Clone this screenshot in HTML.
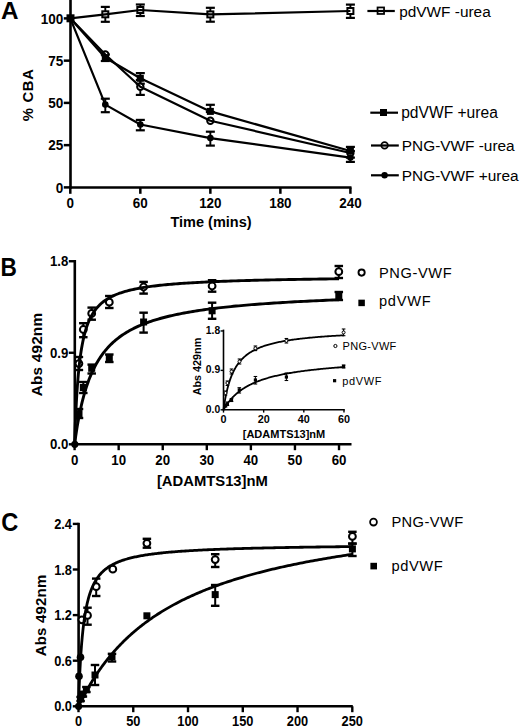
<!DOCTYPE html>
<html><head><meta charset="utf-8"><title>Figure</title>
<style>
html,body{margin:0;padding:0;background:#fff;}
body{width:520px;height:727px;overflow:hidden;}
svg{display:block;}
svg text{font-family:"Liberation Sans", sans-serif;fill:#000;}
</style></head>
<body>
<svg width="520" height="727" viewBox="0 0 520 727" stroke="#000" stroke-linecap="butt">
<g stroke="none"><rect x="0" y="0" width="520" height="727" fill="#fff"/></g>
<line x1="70.5" y1="0" x2="70.5" y2="188.8" stroke-width="2.6"/>
<line x1="69.2" y1="187.5" x2="351.5" y2="187.5" stroke-width="2.6"/>
<line x1="63.8" y1="187.4" x2="70.5" y2="187.4" stroke-width="2.5"/>
<line x1="63.8" y1="145.15" x2="70.5" y2="145.15" stroke-width="2.5"/>
<line x1="63.8" y1="102.9" x2="70.5" y2="102.9" stroke-width="2.5"/>
<line x1="63.8" y1="60.65" x2="70.5" y2="60.65" stroke-width="2.5"/>
<line x1="63.8" y1="18.4" x2="70.5" y2="18.4" stroke-width="2.5"/>
<line x1="70.3" y1="187.5" x2="70.3" y2="193.8" stroke-width="2.5"/>
<line x1="140.32" y1="187.5" x2="140.32" y2="193.8" stroke-width="2.5"/>
<line x1="210.35" y1="187.5" x2="210.35" y2="193.8" stroke-width="2.5"/>
<line x1="280.37" y1="187.5" x2="280.37" y2="193.8" stroke-width="2.5"/>
<line x1="350.4" y1="187.5" x2="350.4" y2="193.8" stroke-width="2.5"/>
<text stroke="none" transform="translate(63.3 192.7) scale(0.94 1)" font-size="14.4" font-weight="bold" text-anchor="end">0</text>
<text stroke="none" transform="translate(63.3 150.45) scale(0.94 1)" font-size="14.4" font-weight="bold" text-anchor="end">25</text>
<text stroke="none" transform="translate(63.3 108.2) scale(0.94 1)" font-size="14.4" font-weight="bold" text-anchor="end">50</text>
<text stroke="none" transform="translate(63.3 65.95) scale(0.94 1)" font-size="14.4" font-weight="bold" text-anchor="end">75</text>
<text stroke="none" transform="translate(63.3 23.7) scale(0.94 1)" font-size="14.4" font-weight="bold" text-anchor="end">100</text>
<text stroke="none" transform="translate(70.3 208.1) scale(0.94 1)" font-size="14.3" font-weight="bold" text-anchor="middle">0</text>
<text stroke="none" transform="translate(140.32 208.1) scale(0.94 1)" font-size="14.3" font-weight="bold" text-anchor="middle">60</text>
<text stroke="none" transform="translate(210.35 208.1) scale(0.94 1)" font-size="14.3" font-weight="bold" text-anchor="middle">120</text>
<text stroke="none" transform="translate(280.37 208.1) scale(0.94 1)" font-size="14.3" font-weight="bold" text-anchor="middle">180</text>
<text stroke="none" transform="translate(350.4 208.1) scale(0.94 1)" font-size="14.3" font-weight="bold" text-anchor="middle">240</text>
<text stroke="none" x="211" y="227.2" font-size="14.5" font-weight="bold" text-anchor="middle">Time (mins)</text>
<text stroke="none" x="32.9" y="94.8" font-size="14.8" font-weight="bold" text-anchor="middle" transform="rotate(-90 32.9 94.8)" letter-spacing="0.7">% CBA</text>
<text stroke="none" x="0.9" y="19.3" font-size="24.3" font-weight="bold" text-anchor="start">A</text>
<line x1="105.31" y1="6.9" x2="105.31" y2="21.8" stroke-width="1.9"/>
<line x1="100.81" y1="6.9" x2="109.81" y2="6.9" stroke-width="2.2"/>
<line x1="100.81" y1="21.8" x2="109.81" y2="21.8" stroke-width="2.2"/>
<line x1="140.32" y1="4.5" x2="140.32" y2="16" stroke-width="1.9"/>
<line x1="135.82" y1="4.5" x2="144.82" y2="4.5" stroke-width="2.2"/>
<line x1="135.82" y1="16" x2="144.82" y2="16" stroke-width="2.2"/>
<line x1="210.35" y1="7.8" x2="210.35" y2="21.7" stroke-width="1.9"/>
<line x1="205.85" y1="7.8" x2="214.85" y2="7.8" stroke-width="2.2"/>
<line x1="205.85" y1="21.7" x2="214.85" y2="21.7" stroke-width="2.2"/>
<line x1="350.4" y1="4.6" x2="350.4" y2="17.9" stroke-width="1.9"/>
<line x1="345.9" y1="4.6" x2="354.9" y2="4.6" stroke-width="2.2"/>
<line x1="345.9" y1="17.9" x2="354.9" y2="17.9" stroke-width="2.2"/>
<line x1="105.31" y1="54.5" x2="105.31" y2="61" stroke-width="1.9"/>
<line x1="100.81" y1="54.5" x2="109.81" y2="54.5" stroke-width="2.2"/>
<line x1="100.81" y1="61" x2="109.81" y2="61" stroke-width="2.2"/>
<line x1="140.32" y1="73.1" x2="140.32" y2="83.7" stroke-width="1.9"/>
<line x1="135.82" y1="73.1" x2="144.82" y2="73.1" stroke-width="2.2"/>
<line x1="135.82" y1="83.7" x2="144.82" y2="83.7" stroke-width="2.2"/>
<line x1="210.35" y1="104.8" x2="210.35" y2="112" stroke-width="1.9"/>
<line x1="205.85" y1="104.8" x2="214.85" y2="104.8" stroke-width="2.2"/>
<line x1="205.85" y1="112" x2="214.85" y2="112" stroke-width="2.2"/>
<line x1="350.4" y1="146.9" x2="350.4" y2="151" stroke-width="1.9"/>
<line x1="345.9" y1="146.9" x2="354.9" y2="146.9" stroke-width="2.2"/>
<line x1="345.9" y1="151" x2="354.9" y2="151" stroke-width="2.2"/>
<line x1="140.32" y1="80" x2="140.32" y2="94.9" stroke-width="1.9"/>
<line x1="135.82" y1="80" x2="144.82" y2="80" stroke-width="2.2"/>
<line x1="135.82" y1="94.9" x2="144.82" y2="94.9" stroke-width="2.2"/>
<line x1="105.31" y1="98.7" x2="105.31" y2="112.2" stroke-width="1.9"/>
<line x1="100.81" y1="98.7" x2="109.81" y2="98.7" stroke-width="2.2"/>
<line x1="100.81" y1="112.2" x2="109.81" y2="112.2" stroke-width="2.2"/>
<line x1="140.32" y1="119.9" x2="140.32" y2="130.3" stroke-width="1.9"/>
<line x1="135.82" y1="119.9" x2="144.82" y2="119.9" stroke-width="2.2"/>
<line x1="135.82" y1="130.3" x2="144.82" y2="130.3" stroke-width="2.2"/>
<line x1="210.35" y1="131.7" x2="210.35" y2="145.6" stroke-width="1.9"/>
<line x1="205.85" y1="131.7" x2="214.85" y2="131.7" stroke-width="2.2"/>
<line x1="205.85" y1="145.6" x2="214.85" y2="145.6" stroke-width="2.2"/>
<line x1="350.4" y1="157.6" x2="350.4" y2="161.9" stroke-width="1.9"/>
<line x1="345.9" y1="157.6" x2="354.9" y2="157.6" stroke-width="2.2"/>
<line x1="345.9" y1="161.9" x2="354.9" y2="161.9" stroke-width="2.2"/>
<rect x="102.31" y="11.3" width="6" height="6" fill="#fff" stroke-width="2"/>
<rect x="137.32" y="7" width="6" height="6" fill="#fff" stroke-width="2"/>
<rect x="207.35" y="11.4" width="6" height="6" fill="#fff" stroke-width="2"/>
<rect x="347.4" y="8" width="6" height="6" fill="#fff" stroke-width="2"/>
<circle cx="105.31" cy="54.5" r="3.2" fill="#fff" stroke-width="2"/>
<circle cx="140.32" cy="86.7" r="3.2" fill="#fff" stroke-width="2"/>
<circle cx="210.35" cy="120.7" r="3.2" fill="#fff" stroke-width="2"/>
<circle cx="350.4" cy="153" r="3.2" fill="#fff" stroke-width="2"/>
<polyline points="70.3,18.3 105.31,14.3 140.32,10 210.35,14.4 350.4,11" fill="none" stroke-width="2.2" stroke-linejoin="round"/>
<polyline points="70.3,18.3 105.31,57.7 140.32,78.3 210.35,111.4 350.4,151" fill="none" stroke-width="2.2" stroke-linejoin="round"/>
<polyline points="70.3,18.3 105.31,54.5 140.32,86.7 210.35,120.7 350.4,153" fill="none" stroke-width="2.2" stroke-linejoin="round"/>
<polyline points="70.3,18.3 105.31,104.6 140.32,124.5 210.35,138.1 350.4,157.6" fill="none" stroke-width="2.2" stroke-linejoin="round"/>
<rect x="101.81" y="54.2" width="7" height="7" fill="#000" stroke="none"/>
<rect x="136.82" y="74.8" width="7" height="7" fill="#000" stroke="none"/>
<rect x="206.85" y="107.9" width="7" height="7" fill="#000" stroke="none"/>
<rect x="346.9" y="147.5" width="7" height="7" fill="#000" stroke="none"/>
<circle cx="105.31" cy="104.6" r="3.3" fill="#000" stroke="none"/>
<circle cx="140.32" cy="124.5" r="3.3" fill="#000" stroke="none"/>
<circle cx="210.35" cy="138.1" r="3.3" fill="#000" stroke="none"/>
<circle cx="350.4" cy="157.6" r="3.3" fill="#000" stroke="none"/>
<rect x="66.5" y="14.3" width="8" height="8" fill="#000" stroke="none"/>
<rect x="377.55" y="7.45" width="6.5" height="6.5" fill="#fff" stroke-width="1.75"/>
<line x1="367.4" y1="11" x2="394.8" y2="11" stroke-width="2.2"/>
<text stroke="none" x="399.2" y="16.6" font-size="15.4" font-weight="normal" text-anchor="start">pdVWF -urea</text>
<line x1="370.3" y1="112.7" x2="398" y2="112.7" stroke-width="2.2"/>
<rect x="380" y="109" width="7" height="7" fill="#000" stroke="none"/>
<text stroke="none" x="401.2" y="117.8" font-size="15.6" font-weight="normal" text-anchor="start">pdVWF +urea</text>
<circle cx="384.6" cy="145.4" r="3.3" fill="#fff" stroke-width="1.7"/>
<line x1="371" y1="145.5" x2="398.8" y2="145.5" stroke-width="2.2"/>
<text stroke="none" x="401.8" y="150.5" font-size="15.4" font-weight="normal" text-anchor="start">PNG-VWF -urea</text>
<line x1="371" y1="175.3" x2="398.8" y2="175.3" stroke-width="2.2"/>
<circle cx="384.6" cy="175.3" r="3.2" fill="#000" stroke="none"/>
<text stroke="none" x="401.8" y="180.7" font-size="15.4" font-weight="normal" text-anchor="start">PNG-VWF +urea</text>
<line x1="74.8" y1="260" x2="74.8" y2="445.6" stroke-width="2.6"/>
<line x1="73.5" y1="444.3" x2="351.5" y2="444.3" stroke-width="2.6"/>
<line x1="68.8" y1="444.3" x2="74.8" y2="444.3" stroke-width="2.4"/>
<line x1="68.8" y1="352.77" x2="74.8" y2="352.77" stroke-width="2.4"/>
<line x1="68.8" y1="261.24" x2="74.8" y2="261.24" stroke-width="2.4"/>
<line x1="74.6" y1="444.3" x2="74.6" y2="450.2" stroke-width="2.4"/>
<line x1="118.67" y1="444.3" x2="118.67" y2="450.2" stroke-width="2.4"/>
<line x1="162.74" y1="444.3" x2="162.74" y2="450.2" stroke-width="2.4"/>
<line x1="206.81" y1="444.3" x2="206.81" y2="450.2" stroke-width="2.4"/>
<line x1="250.88" y1="444.3" x2="250.88" y2="450.2" stroke-width="2.4"/>
<line x1="294.95" y1="444.3" x2="294.95" y2="450.2" stroke-width="2.4"/>
<line x1="339.02" y1="444.3" x2="339.02" y2="450.2" stroke-width="2.4"/>
<text stroke="none" transform="translate(68.3 449.4) scale(0.93 1)" font-size="14.2" font-weight="bold" text-anchor="end">0.0</text>
<text stroke="none" transform="translate(68.3 357.87) scale(0.93 1)" font-size="14.2" font-weight="bold" text-anchor="end">0.9</text>
<text stroke="none" transform="translate(68.3 266.34) scale(0.93 1)" font-size="14.2" font-weight="bold" text-anchor="end">1.8</text>
<text stroke="none" transform="translate(74.6 465.2) scale(0.94 1)" font-size="14.1" font-weight="bold" text-anchor="middle">0</text>
<text stroke="none" transform="translate(118.67 465.2) scale(0.94 1)" font-size="14.1" font-weight="bold" text-anchor="middle">10</text>
<text stroke="none" transform="translate(162.74 465.2) scale(0.94 1)" font-size="14.1" font-weight="bold" text-anchor="middle">20</text>
<text stroke="none" transform="translate(206.81 465.2) scale(0.94 1)" font-size="14.1" font-weight="bold" text-anchor="middle">30</text>
<text stroke="none" transform="translate(250.88 465.2) scale(0.94 1)" font-size="14.1" font-weight="bold" text-anchor="middle">40</text>
<text stroke="none" transform="translate(294.95 465.2) scale(0.94 1)" font-size="14.1" font-weight="bold" text-anchor="middle">50</text>
<text stroke="none" transform="translate(339.02 465.2) scale(0.94 1)" font-size="14.1" font-weight="bold" text-anchor="middle">60</text>
<text stroke="none" x="212.4" y="485.8" font-size="14.8" font-weight="bold" text-anchor="middle">[ADAMTS13]nM</text>
<text stroke="none" x="42.2" y="354.5" font-size="15.3" font-weight="bold" text-anchor="middle" transform="rotate(-90 42.2 354.5)" letter-spacing="0.2">Abs 492nm</text>
<text stroke="none" transform="translate(0.6 276.2) scale(0.9 1)" font-size="25.2" font-weight="bold">B</text>
<line x1="78.9" y1="357" x2="78.9" y2="370" stroke-width="2"/>
<line x1="74.65" y1="357" x2="83.15" y2="357" stroke-width="2.4"/>
<line x1="74.65" y1="370" x2="83.15" y2="370" stroke-width="2.4"/>
<line x1="83.3" y1="323.2" x2="83.3" y2="337.2" stroke-width="2"/>
<line x1="79.05" y1="323.2" x2="87.55" y2="323.2" stroke-width="2.4"/>
<line x1="79.05" y1="337.2" x2="87.55" y2="337.2" stroke-width="2.4"/>
<line x1="91.7" y1="307.6" x2="91.7" y2="319.7" stroke-width="2"/>
<line x1="87.45" y1="307.6" x2="95.95" y2="307.6" stroke-width="2.4"/>
<line x1="87.45" y1="319.7" x2="95.95" y2="319.7" stroke-width="2.4"/>
<line x1="109.3" y1="296" x2="109.3" y2="308" stroke-width="2"/>
<line x1="105.05" y1="296" x2="113.55" y2="296" stroke-width="2.4"/>
<line x1="105.05" y1="308" x2="113.55" y2="308" stroke-width="2.4"/>
<line x1="143.6" y1="281.9" x2="143.6" y2="293.6" stroke-width="2"/>
<line x1="139.35" y1="281.9" x2="147.85" y2="281.9" stroke-width="2.4"/>
<line x1="139.35" y1="293.6" x2="147.85" y2="293.6" stroke-width="2.4"/>
<line x1="212.1" y1="280.2" x2="212.1" y2="291.7" stroke-width="2"/>
<line x1="207.85" y1="280.2" x2="216.35" y2="280.2" stroke-width="2.4"/>
<line x1="207.85" y1="291.7" x2="216.35" y2="291.7" stroke-width="2.4"/>
<line x1="338.8" y1="266" x2="338.8" y2="278" stroke-width="2"/>
<line x1="334.55" y1="266" x2="343.05" y2="266" stroke-width="2.4"/>
<line x1="334.55" y1="278" x2="343.05" y2="278" stroke-width="2.4"/>
<line x1="79" y1="409" x2="79" y2="418" stroke-width="2"/>
<line x1="74.75" y1="409" x2="83.25" y2="409" stroke-width="2.4"/>
<line x1="74.75" y1="418" x2="83.25" y2="418" stroke-width="2.4"/>
<line x1="83.3" y1="382" x2="83.3" y2="393" stroke-width="2"/>
<line x1="79.05" y1="382" x2="87.55" y2="382" stroke-width="2.4"/>
<line x1="79.05" y1="393" x2="87.55" y2="393" stroke-width="2.4"/>
<line x1="91.7" y1="364.6" x2="91.7" y2="373.5" stroke-width="2"/>
<line x1="87.45" y1="364.6" x2="95.95" y2="364.6" stroke-width="2.4"/>
<line x1="87.45" y1="373.5" x2="95.95" y2="373.5" stroke-width="2.4"/>
<line x1="109.3" y1="354.5" x2="109.3" y2="362" stroke-width="2"/>
<line x1="105.05" y1="354.5" x2="113.55" y2="354.5" stroke-width="2.4"/>
<line x1="105.05" y1="362" x2="113.55" y2="362" stroke-width="2.4"/>
<line x1="143.6" y1="312.7" x2="143.6" y2="332.6" stroke-width="2"/>
<line x1="139.35" y1="312.7" x2="147.85" y2="312.7" stroke-width="2.4"/>
<line x1="139.35" y1="332.6" x2="147.85" y2="332.6" stroke-width="2.4"/>
<line x1="212.1" y1="302.7" x2="212.1" y2="318.8" stroke-width="2"/>
<line x1="207.85" y1="302.7" x2="216.35" y2="302.7" stroke-width="2.4"/>
<line x1="207.85" y1="318.8" x2="216.35" y2="318.8" stroke-width="2.4"/>
<line x1="338.8" y1="292" x2="338.8" y2="300" stroke-width="2"/>
<line x1="334.55" y1="292" x2="343.05" y2="292" stroke-width="2.4"/>
<line x1="334.55" y1="300" x2="343.05" y2="300" stroke-width="2.4"/>
<circle cx="78.9" cy="363.6" r="3.4" fill="#fff" stroke-width="2"/>
<circle cx="83.3" cy="329.5" r="3.4" fill="#fff" stroke-width="2"/>
<circle cx="91.7" cy="313.4" r="3.4" fill="#fff" stroke-width="2"/>
<circle cx="109.3" cy="302.2" r="3.4" fill="#fff" stroke-width="2"/>
<circle cx="143.6" cy="287" r="3.4" fill="#fff" stroke-width="2"/>
<circle cx="212.1" cy="286" r="3.4" fill="#fff" stroke-width="2"/>
<circle cx="338.8" cy="271.7" r="3.4" fill="#fff" stroke-width="2"/>
<rect x="75.5" y="410.1" width="7" height="7" fill="#000" stroke="none"/>
<rect x="79.8" y="384" width="7" height="7" fill="#000" stroke="none"/>
<rect x="88.2" y="364.8" width="7" height="7" fill="#000" stroke="none"/>
<rect x="105.8" y="354.8" width="7" height="7" fill="#000" stroke="none"/>
<rect x="140.1" y="318.5" width="7" height="7" fill="#000" stroke="none"/>
<rect x="208.6" y="307.3" width="7" height="7" fill="#000" stroke="none"/>
<rect x="335.3" y="292.5" width="7" height="7" fill="#000" stroke="none"/>
<polyline points="74.6,444.3 74.61,443.97 74.64,442.99 74.69,441.38 74.77,439.18 74.86,436.44 74.97,433.21 75.11,429.55 75.26,425.54 75.44,421.24 75.63,416.71 75.85,412.03 76.09,407.24 76.35,402.4 76.62,397.56 76.92,392.76 77.24,388.03 77.59,383.39 77.95,378.87 78.33,374.49 78.73,370.26 79.16,366.18 79.6,362.26 80.06,358.51 80.55,354.92 81.06,351.5 81.58,348.24 82.13,345.13 82.7,342.17 83.29,339.36 83.9,336.69 84.53,334.16 85.18,331.75 85.85,329.47 86.54,327.3 87.25,325.24 87.99,323.29 88.74,321.43 89.51,319.67 90.31,317.99 91.13,316.4 91.96,314.89 92.82,313.46 93.7,312.09 94.6,310.79 95.52,309.55 96.46,308.37 97.42,307.24 98.4,306.17 99.4,305.15 100.42,304.18 101.47,303.24 102.53,302.36 103.61,301.51 104.72,300.69 105.84,299.92 106.99,299.17 108.16,298.46 109.35,297.78 110.55,297.13 111.78,296.5 113.03,295.9 114.3,295.32 115.6,294.77 116.91,294.24 118.24,293.73 119.59,293.23 120.97,292.76 122.36,292.31 123.78,291.87 125.21,291.45 126.67,291.04 128.15,290.65 129.64,290.28 131.16,289.91 132.7,289.56 134.26,289.22 135.84,288.9 137.44,288.58 139.06,288.28 140.7,287.98 142.37,287.7 144.05,287.42 145.76,287.16 147.48,286.9 149.23,286.65 150.99,286.41 152.78,286.17 154.59,285.95 156.42,285.73 158.26,285.51 160.13,285.31 162.02,285.11 163.93,284.91 165.87,284.72 167.82,284.54 169.79,284.36 171.78,284.19 173.8,284.02 175.83,283.86 177.89,283.7 179.97,283.55 182.06,283.4 184.18,283.25 186.32,283.11 188.48,282.97 190.66,282.84 192.86,282.7 195.08,282.58 197.32,282.45 199.58,282.33 201.86,282.21 204.17,282.1 206.49,281.99 208.83,281.88 211.2,281.77 213.59,281.67 215.99,281.56 218.42,281.47 220.87,281.37 223.34,281.27 225.83,281.18 228.34,281.09 230.87,281 233.42,280.92 235.99,280.83 238.58,280.75 241.19,280.67 243.83,280.59 246.48,280.52 249.16,280.44 251.85,280.37 254.57,280.3 257.31,280.23 260.07,280.16 262.84,280.09 265.64,280.03 268.46,279.96 271.3,279.9 274.16,279.84 277.05,279.78 279.95,279.72 282.87,279.66 285.82,279.6 288.78,279.55 291.77,279.49 294.77,279.44 297.8,279.39 300.84,279.33 303.91,279.28 307,279.23 310.11,279.19 313.24,279.14 316.39,279.09 319.56,279.05 322.75,279 325.96,278.96 329.2,278.91 332.45,278.87 335.73,278.83 339.02,278.79" fill="none" stroke-width="2.9" stroke-linejoin="round"/>
<polyline points="74.6,444.3 74.61,444.22 74.64,443.98 74.69,443.59 74.77,443.04 74.86,442.34 74.97,441.5 75.11,440.51 75.26,439.39 75.44,438.13 75.63,436.76 75.85,435.26 76.09,433.66 76.35,431.96 76.62,430.17 76.92,428.3 77.24,426.35 77.59,424.33 77.95,422.25 78.33,420.13 78.73,417.96 79.16,415.75 79.6,413.52 80.06,411.26 80.55,409 81.06,406.72 81.58,404.44 82.13,402.16 82.7,399.89 83.29,397.63 83.9,395.38 84.53,393.15 85.18,390.95 85.85,388.77 86.54,386.62 87.25,384.5 87.99,382.42 88.74,380.36 89.51,378.34 90.31,376.36 91.13,374.42 91.96,372.51 92.82,370.65 93.7,368.82 94.6,367.03 95.52,365.28 96.46,363.57 97.42,361.91 98.4,360.28 99.4,358.68 100.42,357.13 101.47,355.62 102.53,354.14 103.61,352.7 104.72,351.3 105.84,349.93 106.99,348.6 108.16,347.3 109.35,346.03 110.55,344.8 111.78,343.6 113.03,342.43 114.3,341.29 115.6,340.18 116.91,339.1 118.24,338.05 119.59,337.03 120.97,336.03 122.36,335.06 123.78,334.12 125.21,333.2 126.67,332.3 128.15,331.43 129.64,330.58 131.16,329.75 132.7,328.95 134.26,328.16 135.84,327.4 137.44,326.65 139.06,325.93 140.7,325.22 142.37,324.53 144.05,323.86 145.76,323.2 147.48,322.56 149.23,321.94 150.99,321.33 152.78,320.74 154.59,320.16 156.42,319.6 158.26,319.05 160.13,318.51 162.02,317.99 163.93,317.48 165.87,316.98 167.82,316.49 169.79,316.02 171.78,315.55 173.8,315.1 175.83,314.66 177.89,314.23 179.97,313.81 182.06,313.39 184.18,312.99 186.32,312.6 188.48,312.21 190.66,311.84 192.86,311.47 195.08,311.11 197.32,310.76 199.58,310.42 201.86,310.08 204.17,309.75 206.49,309.43 208.83,309.11 211.2,308.81 213.59,308.51 215.99,308.21 218.42,307.92 220.87,307.64 223.34,307.36 225.83,307.09 228.34,306.83 230.87,306.57 233.42,306.31 235.99,306.06 238.58,305.82 241.19,305.58 243.83,305.34 246.48,305.11 249.16,304.89 251.85,304.67 254.57,304.45 257.31,304.24 260.07,304.03 262.84,303.83 265.64,303.63 268.46,303.43 271.3,303.24 274.16,303.05 277.05,302.86 279.95,302.68 282.87,302.5 285.82,302.33 288.78,302.15 291.77,301.98 294.77,301.82 297.8,301.65 300.84,301.49 303.91,301.34 307,301.18 310.11,301.03 313.24,300.88 316.39,300.74 319.56,300.59 322.75,300.45 325.96,300.31 329.2,300.17 332.45,300.04 335.73,299.91 339.02,299.78" fill="none" stroke-width="2.9" stroke-linejoin="round"/>
<circle cx="74.8" cy="444.3" r="3.6" fill="#000" stroke="none"/>
<circle cx="361.6" cy="272.6" r="3.1" fill="#fff" stroke-width="1.9"/>
<text stroke="none" x="379" y="277.6" font-size="14.6" font-weight="normal" text-anchor="start" letter-spacing="0.62">PNG-VWF</text>
<rect x="358.35" y="299.65" width="6.5" height="6.5" fill="#000" stroke="none"/>
<text stroke="none" x="379" y="306.2" font-size="14.6" font-weight="normal" text-anchor="start" letter-spacing="0.75">pdVWF</text>
<line x1="223.5" y1="329.6" x2="223.5" y2="410.5" stroke-width="1.6"/>
<line x1="222.8" y1="409.8" x2="344.8" y2="409.8" stroke-width="1.6"/>
<line x1="220.6" y1="409.8" x2="223.5" y2="409.8" stroke-width="1.4"/>
<line x1="220.6" y1="370.38" x2="223.5" y2="370.38" stroke-width="1.4"/>
<line x1="220.6" y1="330.96" x2="223.5" y2="330.96" stroke-width="1.4"/>
<line x1="223.5" y1="409.8" x2="223.5" y2="412.6" stroke-width="1.4"/>
<line x1="263.66" y1="409.8" x2="263.66" y2="412.6" stroke-width="1.4"/>
<line x1="303.82" y1="409.8" x2="303.82" y2="412.6" stroke-width="1.4"/>
<line x1="343.98" y1="409.8" x2="343.98" y2="412.6" stroke-width="1.4"/>
<text stroke="none" transform="translate(220.2 412.9) scale(0.95 1)" font-size="10.9" font-weight="bold" text-anchor="end">0.0</text>
<text stroke="none" transform="translate(220.2 373.48) scale(0.95 1)" font-size="10.9" font-weight="bold" text-anchor="end">0.9</text>
<text stroke="none" transform="translate(220.2 334.06) scale(0.95 1)" font-size="10.9" font-weight="bold" text-anchor="end">1.8</text>
<text stroke="none" x="223.5" y="423.2" font-size="10.8" font-weight="bold" text-anchor="middle">0</text>
<text stroke="none" x="263.66" y="423.2" font-size="10.8" font-weight="bold" text-anchor="middle">20</text>
<text stroke="none" x="303.82" y="423.2" font-size="10.8" font-weight="bold" text-anchor="middle">40</text>
<text stroke="none" x="343.98" y="423.2" font-size="10.8" font-weight="bold" text-anchor="middle">60</text>
<text stroke="none" x="284" y="438" font-size="11" font-weight="bold" text-anchor="middle">[ADAMTS13]nM</text>
<text stroke="none" x="201.3" y="366.5" font-size="10.8" font-weight="bold" text-anchor="middle" transform="rotate(-90 201.3 366.5)">Abs 429nm</text>
<polyline points="223.5,409.8 223.5,409.77 223.52,409.66 223.54,409.49 223.58,409.26 223.62,408.96 223.67,408.59 223.73,408.16 223.8,407.67 223.88,407.13 223.97,406.53 224.07,405.87 224.18,405.17 224.3,404.42 224.42,403.62 224.56,402.79 224.7,401.92 224.86,401.01 225.02,400.07 225.2,399.11 225.38,398.12 225.58,397.11 225.78,396.08 225.99,395.03 226.21,393.98 226.44,392.91 226.68,391.83 226.93,390.75 227.19,389.67 227.46,388.59 227.74,387.51 228.02,386.43 228.32,385.36 228.63,384.29 228.94,383.24 229.27,382.19 229.6,381.15 229.94,380.12 230.3,379.11 230.66,378.11 231.03,377.13 231.41,376.15 231.8,375.2 232.2,374.26 232.61,373.34 233.03,372.43 233.46,371.54 233.9,370.66 234.34,369.81 234.8,368.97 235.27,368.14 235.74,367.34 236.23,366.55 236.72,365.78 237.22,365.02 237.74,364.28 238.26,363.56 238.79,362.86 239.33,362.17 239.88,361.49 240.44,360.83 241.01,360.19 241.59,359.56 242.18,358.95 242.78,358.35 243.38,357.76 244,357.19 244.63,356.63 245.26,356.09 245.91,355.56 246.56,355.04 247.22,354.53 247.9,354.03 248.58,353.55 249.27,353.08 249.97,352.62 250.68,352.17 251.4,351.73 252.13,351.3 252.87,350.89 253.62,350.48 254.38,350.08 255.14,349.69 255.92,349.31 256.71,348.94 257.5,348.58 258.31,348.22 259.12,347.88 259.95,347.54 260.78,347.21 261.62,346.89 262.47,346.57 263.33,346.27 264.2,345.97 265.08,345.67 265.97,345.39 266.87,345.1 267.78,344.83 268.7,344.56 269.63,344.3 270.56,344.04 271.51,343.79 272.46,343.55 273.43,343.31 274.4,343.07 275.39,342.84 276.38,342.62 277.38,342.4 278.39,342.18 279.41,341.97 280.45,341.77 281.49,341.56 282.54,341.37 283.59,341.17 284.66,340.98 285.74,340.8 286.83,340.62 287.92,340.44 289.03,340.26 290.15,340.09 291.27,339.93 292.4,339.76 293.55,339.6 294.7,339.44 295.86,339.29 297.04,339.14 298.22,338.99 299.41,338.84 300.61,338.7 301.82,338.56 303.04,338.42 304.26,338.29 305.5,338.16 306.75,338.03 308.01,337.9 309.27,337.77 310.55,337.65 311.83,337.53 313.13,337.41 314.43,337.3 315.74,337.18 317.06,337.07 318.4,336.96 319.74,336.86 321.09,336.75 322.45,336.65 323.82,336.54 325.2,336.44 326.59,336.34 327.98,336.25 329.39,336.15 330.81,336.06 332.23,335.97 333.67,335.88 335.11,335.79 336.57,335.7 338.03,335.62 339.5,335.53 340.99,335.45 342.48,335.37 343.98,335.29" fill="none" stroke-width="1.8" stroke-linejoin="round"/>
<polyline points="223.5,409.8 223.5,409.79 223.52,409.77 223.54,409.72 223.58,409.67 223.62,409.59 223.67,409.5 223.73,409.39 223.8,409.27 223.88,409.13 223.97,408.98 224.07,408.81 224.18,408.62 224.3,408.43 224.42,408.21 224.56,407.99 224.7,407.74 224.86,407.49 225.02,407.23 225.2,406.95 225.38,406.66 225.58,406.36 225.78,406.04 225.99,405.72 226.21,405.39 226.44,405.05 226.68,404.7 226.93,404.34 227.19,403.97 227.46,403.59 227.74,403.21 228.02,402.82 228.32,402.43 228.63,402.03 228.94,401.62 229.27,401.22 229.6,400.8 229.94,400.38 230.3,399.96 230.66,399.54 231.03,399.11 231.41,398.68 231.8,398.25 232.2,397.82 232.61,397.39 233.03,396.96 233.46,396.52 233.9,396.09 234.34,395.66 234.8,395.22 235.27,394.79 235.74,394.36 236.23,393.93 236.72,393.5 237.22,393.07 237.74,392.65 238.26,392.23 238.79,391.81 239.33,391.39 239.88,390.97 240.44,390.56 241.01,390.15 241.59,389.75 242.18,389.35 242.78,388.95 243.38,388.55 244,388.16 244.63,387.77 245.26,387.39 245.91,387.01 246.56,386.63 247.22,386.26 247.9,385.89 248.58,385.52 249.27,385.16 249.97,384.8 250.68,384.45 251.4,384.1 252.13,383.76 252.87,383.42 253.62,383.08 254.38,382.75 255.14,382.42 255.92,382.1 256.71,381.78 257.5,381.46 258.31,381.15 259.12,380.85 259.95,380.54 260.78,380.24 261.62,379.95 262.47,379.66 263.33,379.37 264.2,379.09 265.08,378.81 265.97,378.54 266.87,378.26 267.78,378 268.7,377.73 269.63,377.47 270.56,377.22 271.51,376.96 272.46,376.72 273.43,376.47 274.4,376.23 275.39,375.99 276.38,375.76 277.38,375.52 278.39,375.3 279.41,375.07 280.45,374.85 281.49,374.63 282.54,374.42 283.59,374.2 284.66,374 285.74,373.79 286.83,373.59 287.92,373.39 289.03,373.19 290.15,373 291.27,372.81 292.4,372.62 293.55,372.43 294.7,372.25 295.86,372.07 297.04,371.89 298.22,371.72 299.41,371.54 300.61,371.37 301.82,371.21 303.04,371.04 304.26,370.88 305.5,370.72 306.75,370.56 308.01,370.41 309.27,370.25 310.55,370.1 311.83,369.95 313.13,369.8 314.43,369.66 315.74,369.52 317.06,369.38 318.4,369.24 319.74,369.1 321.09,368.97 322.45,368.83 323.82,368.7 325.2,368.57 326.59,368.45 327.98,368.32 329.39,368.2 330.81,368.08 332.23,367.96 333.67,367.84 335.11,367.72 336.57,367.6 338.03,367.49 339.5,367.38 340.99,367.27 342.48,367.16 343.98,367.05" fill="none" stroke-width="1.8" stroke-linejoin="round"/>
<line x1="225.5" y1="391" x2="225.5" y2="395" stroke-width="1"/>
<line x1="223.7" y1="391" x2="227.3" y2="391" stroke-width="1.1"/>
<line x1="223.7" y1="395" x2="227.3" y2="395" stroke-width="1.1"/>
<line x1="227.4" y1="381" x2="227.4" y2="385.5" stroke-width="1"/>
<line x1="225.6" y1="381" x2="229.2" y2="381" stroke-width="1.1"/>
<line x1="225.6" y1="385.5" x2="229.2" y2="385.5" stroke-width="1.1"/>
<line x1="231.5" y1="369" x2="231.5" y2="374" stroke-width="1"/>
<line x1="229.7" y1="369" x2="233.3" y2="369" stroke-width="1.1"/>
<line x1="229.7" y1="374" x2="233.3" y2="374" stroke-width="1.1"/>
<line x1="239.5" y1="359" x2="239.5" y2="364" stroke-width="1"/>
<line x1="237.7" y1="359" x2="241.3" y2="359" stroke-width="1.1"/>
<line x1="237.7" y1="364" x2="241.3" y2="364" stroke-width="1.1"/>
<line x1="255.4" y1="346" x2="255.4" y2="350.6" stroke-width="1"/>
<line x1="253.6" y1="346" x2="257.2" y2="346" stroke-width="1.1"/>
<line x1="253.6" y1="350.6" x2="257.2" y2="350.6" stroke-width="1.1"/>
<line x1="286.4" y1="338.5" x2="286.4" y2="343" stroke-width="1"/>
<line x1="284.6" y1="338.5" x2="288.2" y2="338.5" stroke-width="1.1"/>
<line x1="284.6" y1="343" x2="288.2" y2="343" stroke-width="1.1"/>
<line x1="343.6" y1="329" x2="343.6" y2="335.7" stroke-width="1"/>
<line x1="341.8" y1="329" x2="345.4" y2="329" stroke-width="1.1"/>
<line x1="341.8" y1="335.7" x2="345.4" y2="335.7" stroke-width="1.1"/>
<line x1="225.5" y1="404" x2="225.5" y2="407" stroke-width="1"/>
<line x1="223.7" y1="404" x2="227.3" y2="404" stroke-width="1.1"/>
<line x1="223.7" y1="407" x2="227.3" y2="407" stroke-width="1.1"/>
<line x1="227.4" y1="402" x2="227.4" y2="405.5" stroke-width="1"/>
<line x1="225.6" y1="402" x2="229.2" y2="402" stroke-width="1.1"/>
<line x1="225.6" y1="405.5" x2="229.2" y2="405.5" stroke-width="1.1"/>
<line x1="231.5" y1="398.5" x2="231.5" y2="401.5" stroke-width="1"/>
<line x1="229.7" y1="398.5" x2="233.3" y2="398.5" stroke-width="1.1"/>
<line x1="229.7" y1="401.5" x2="233.3" y2="401.5" stroke-width="1.1"/>
<line x1="239.3" y1="387.7" x2="239.3" y2="393" stroke-width="1"/>
<line x1="237.5" y1="387.7" x2="241.1" y2="387.7" stroke-width="1.1"/>
<line x1="237.5" y1="393" x2="241.1" y2="393" stroke-width="1.1"/>
<line x1="255.4" y1="376.5" x2="255.4" y2="384" stroke-width="1"/>
<line x1="253.6" y1="376.5" x2="257.2" y2="376.5" stroke-width="1.1"/>
<line x1="253.6" y1="384" x2="257.2" y2="384" stroke-width="1.1"/>
<line x1="286.4" y1="373" x2="286.4" y2="380.5" stroke-width="1"/>
<line x1="284.6" y1="373" x2="288.2" y2="373" stroke-width="1.1"/>
<line x1="284.6" y1="380.5" x2="288.2" y2="380.5" stroke-width="1.1"/>
<line x1="343.6" y1="365" x2="343.6" y2="368" stroke-width="1"/>
<line x1="341.8" y1="365" x2="345.4" y2="365" stroke-width="1.1"/>
<line x1="341.8" y1="368" x2="345.4" y2="368" stroke-width="1.1"/>
<circle cx="225.5" cy="393" r="1.5" fill="#fff" stroke-width="1"/>
<circle cx="227.4" cy="383" r="1.5" fill="#fff" stroke-width="1"/>
<circle cx="231.5" cy="371.5" r="1.5" fill="#fff" stroke-width="1"/>
<circle cx="239.5" cy="361.5" r="1.5" fill="#fff" stroke-width="1"/>
<circle cx="255.4" cy="348.3" r="1.5" fill="#fff" stroke-width="1"/>
<circle cx="286.4" cy="340.8" r="1.5" fill="#fff" stroke-width="1"/>
<circle cx="343.6" cy="332.4" r="1.5" fill="#fff" stroke-width="1"/>
<rect x="223.9" y="403.9" width="3.2" height="3.2" fill="#000" stroke="none"/>
<rect x="225.8" y="402.2" width="3.2" height="3.2" fill="#000" stroke="none"/>
<rect x="229.9" y="398.4" width="3.2" height="3.2" fill="#000" stroke="none"/>
<rect x="237.7" y="388.4" width="3.2" height="3.2" fill="#000" stroke="none"/>
<rect x="253.8" y="378.4" width="3.2" height="3.2" fill="#000" stroke="none"/>
<rect x="284.8" y="375.4" width="3.2" height="3.2" fill="#000" stroke="none"/>
<rect x="342" y="364.9" width="3.2" height="3.2" fill="#000" stroke="none"/>
<circle cx="335.4" cy="346" r="1.6" fill="#fff" stroke-width="1"/>
<text stroke="none" x="342.6" y="350" font-size="11" font-weight="normal" text-anchor="start" letter-spacing="0.3">PNG-VWF</text>
<rect x="333" y="379.1" width="3.2" height="3.2" fill="#000" stroke="none"/>
<text stroke="none" x="342.3" y="385.1" font-size="11" font-weight="normal" text-anchor="start" letter-spacing="0.6">pdVWF</text>
<line x1="78.6" y1="522.8" x2="78.6" y2="707.6" stroke-width="2.6"/>
<line x1="77.3" y1="706.3" x2="352.8" y2="706.3" stroke-width="2.6"/>
<line x1="72.8" y1="706.3" x2="78.6" y2="706.3" stroke-width="2.4"/>
<line x1="72.8" y1="660.7" x2="78.6" y2="660.7" stroke-width="2.4"/>
<line x1="72.8" y1="615.1" x2="78.6" y2="615.1" stroke-width="2.4"/>
<line x1="72.8" y1="569.5" x2="78.6" y2="569.5" stroke-width="2.4"/>
<line x1="72.8" y1="523.9" x2="78.6" y2="523.9" stroke-width="2.4"/>
<line x1="78.5" y1="706.3" x2="78.5" y2="712.2" stroke-width="2.4"/>
<line x1="133.26" y1="706.3" x2="133.26" y2="712.2" stroke-width="2.4"/>
<line x1="188.02" y1="706.3" x2="188.02" y2="712.2" stroke-width="2.4"/>
<line x1="242.78" y1="706.3" x2="242.78" y2="712.2" stroke-width="2.4"/>
<line x1="297.54" y1="706.3" x2="297.54" y2="712.2" stroke-width="2.4"/>
<line x1="352.3" y1="706.3" x2="352.3" y2="712.2" stroke-width="2.4"/>
<text stroke="none" transform="translate(72 711.4) scale(0.93 1)" font-size="13.8" font-weight="bold" text-anchor="end">0.0</text>
<text stroke="none" transform="translate(72 665.8) scale(0.93 1)" font-size="13.8" font-weight="bold" text-anchor="end">0.6</text>
<text stroke="none" transform="translate(72 620.2) scale(0.93 1)" font-size="13.8" font-weight="bold" text-anchor="end">1.2</text>
<text stroke="none" transform="translate(72 574.6) scale(0.93 1)" font-size="13.8" font-weight="bold" text-anchor="end">1.8</text>
<text stroke="none" transform="translate(72 529) scale(0.93 1)" font-size="13.8" font-weight="bold" text-anchor="end">2.4</text>
<text stroke="none" transform="translate(78.5 725.9) scale(0.89 1)" font-size="14.4" font-weight="bold" text-anchor="middle">0</text>
<text stroke="none" transform="translate(133.26 725.9) scale(0.89 1)" font-size="14.4" font-weight="bold" text-anchor="middle">50</text>
<text stroke="none" transform="translate(188.02 725.9) scale(0.89 1)" font-size="14.4" font-weight="bold" text-anchor="middle">100</text>
<text stroke="none" transform="translate(242.78 725.9) scale(0.89 1)" font-size="14.4" font-weight="bold" text-anchor="middle">150</text>
<text stroke="none" transform="translate(297.54 725.9) scale(0.89 1)" font-size="14.4" font-weight="bold" text-anchor="middle">200</text>
<text stroke="none" transform="translate(352.3 725.9) scale(0.89 1)" font-size="14.4" font-weight="bold" text-anchor="middle">250</text>
<text stroke="none" x="45.6" y="615.4" font-size="15" font-weight="bold" text-anchor="middle" transform="rotate(-90 45.6 615.4)" letter-spacing="0.2">Abs 492nm</text>
<text stroke="none" transform="translate(1.3 530.8) scale(0.93 1)" font-size="25.4" font-weight="bold">C</text>
<line x1="87.5" y1="607.7" x2="87.5" y2="624.7" stroke-width="2"/>
<line x1="83.25" y1="607.7" x2="91.75" y2="607.7" stroke-width="2.4"/>
<line x1="83.25" y1="624.7" x2="91.75" y2="624.7" stroke-width="2.4"/>
<line x1="96.2" y1="578.6" x2="96.2" y2="596" stroke-width="2"/>
<line x1="91.95" y1="578.6" x2="100.45" y2="578.6" stroke-width="2.4"/>
<line x1="91.95" y1="596" x2="100.45" y2="596" stroke-width="2.4"/>
<line x1="146.9" y1="538.8" x2="146.9" y2="547.7" stroke-width="2"/>
<line x1="142.65" y1="538.8" x2="151.15" y2="538.8" stroke-width="2.4"/>
<line x1="142.65" y1="547.7" x2="151.15" y2="547.7" stroke-width="2.4"/>
<line x1="215.2" y1="554.2" x2="215.2" y2="567" stroke-width="2"/>
<line x1="210.95" y1="554.2" x2="219.45" y2="554.2" stroke-width="2.4"/>
<line x1="210.95" y1="567" x2="219.45" y2="567" stroke-width="2.4"/>
<line x1="352.4" y1="531.8" x2="352.4" y2="543.6" stroke-width="2"/>
<line x1="348.15" y1="531.8" x2="356.65" y2="531.8" stroke-width="2.4"/>
<line x1="348.15" y1="543.6" x2="356.65" y2="543.6" stroke-width="2.4"/>
<line x1="80.6" y1="697" x2="80.6" y2="701" stroke-width="2"/>
<line x1="76.35" y1="697" x2="84.85" y2="697" stroke-width="2.4"/>
<line x1="76.35" y1="701" x2="84.85" y2="701" stroke-width="2.4"/>
<line x1="82.9" y1="692" x2="82.9" y2="696.5" stroke-width="2"/>
<line x1="78.65" y1="692" x2="87.15" y2="692" stroke-width="2.4"/>
<line x1="78.65" y1="696.5" x2="87.15" y2="696.5" stroke-width="2.4"/>
<line x1="86.4" y1="687" x2="86.4" y2="692" stroke-width="2"/>
<line x1="82.15" y1="687" x2="90.65" y2="687" stroke-width="2.4"/>
<line x1="82.15" y1="692" x2="90.65" y2="692" stroke-width="2.4"/>
<line x1="95" y1="665" x2="95" y2="685" stroke-width="2"/>
<line x1="90.75" y1="665" x2="99.25" y2="665" stroke-width="2.4"/>
<line x1="90.75" y1="685" x2="99.25" y2="685" stroke-width="2.4"/>
<line x1="112" y1="653.8" x2="112" y2="661.5" stroke-width="2"/>
<line x1="107.75" y1="653.8" x2="116.25" y2="653.8" stroke-width="2.4"/>
<line x1="107.75" y1="661.5" x2="116.25" y2="661.5" stroke-width="2.4"/>
<line x1="215.2" y1="585" x2="215.2" y2="605.8" stroke-width="2"/>
<line x1="210.95" y1="585" x2="219.45" y2="585" stroke-width="2.4"/>
<line x1="210.95" y1="605.8" x2="219.45" y2="605.8" stroke-width="2.4"/>
<line x1="352.4" y1="543.6" x2="352.4" y2="556" stroke-width="2"/>
<line x1="348.15" y1="543.6" x2="356.65" y2="543.6" stroke-width="2.4"/>
<line x1="348.15" y1="556" x2="356.65" y2="556" stroke-width="2.4"/>
<circle cx="81.9" cy="619.8" r="3.4" fill="#fff" stroke-width="2"/>
<circle cx="87.5" cy="615.4" r="3.4" fill="#fff" stroke-width="2"/>
<circle cx="96.2" cy="586.7" r="3.4" fill="#fff" stroke-width="2"/>
<circle cx="112.8" cy="569.2" r="3.4" fill="#fff" stroke-width="2"/>
<circle cx="146.9" cy="543.3" r="3.4" fill="#fff" stroke-width="2"/>
<circle cx="215.2" cy="559.6" r="3.4" fill="#fff" stroke-width="2"/>
<circle cx="352.4" cy="536.4" r="3.4" fill="#fff" stroke-width="2"/>
<rect x="77.1" y="695.5" width="7" height="7" fill="#000" stroke="none"/>
<rect x="79.4" y="690.7" width="7" height="7" fill="#000" stroke="none"/>
<rect x="82.9" y="686.2" width="7" height="7" fill="#000" stroke="none"/>
<rect x="91.5" y="671.5" width="7" height="7" fill="#000" stroke="none"/>
<rect x="108.5" y="653.3" width="7" height="7" fill="#000" stroke="none"/>
<rect x="143.4" y="612.3" width="7" height="7" fill="#000" stroke="none"/>
<rect x="211.7" y="591.1" width="7" height="7" fill="#000" stroke="none"/>
<rect x="348.9" y="545.4" width="7" height="7" fill="#000" stroke="none"/>
<polyline points="78.5,706.3 78.5,706.15 78.52,705.69 78.54,704.93 78.58,703.88 78.62,702.55 78.67,700.96 78.73,699.11 78.8,697.04 78.89,694.75 78.98,692.28 79.08,689.63 79.18,686.85 79.3,683.93 79.43,680.92 79.57,677.82 79.72,674.66 79.87,671.45 80.04,668.22 80.22,664.98 80.4,661.74 80.6,658.51 80.8,655.31 81.01,652.15 81.24,649.03 81.47,645.97 81.71,642.96 81.97,640.02 82.23,637.15 82.5,634.34 82.78,631.61 83.07,628.96 83.37,626.38 83.68,623.88 84,621.45 84.32,619.1 84.66,616.83 85.01,614.63 85.36,612.5 85.73,610.45 86.11,608.47 86.49,606.55 86.89,604.7 87.29,602.92 87.7,601.2 88.13,599.54 88.56,597.94 89,596.39 89.45,594.9 89.91,593.47 90.38,592.08 90.86,590.75 91.35,589.46 91.85,588.21 92.36,587.01 92.88,585.86 93.41,584.74 93.94,583.66 94.49,582.62 95.05,581.62 95.61,580.65 96.19,579.71 96.77,578.81 97.37,577.94 97.97,577.09 98.58,576.28 99.21,575.49 99.84,574.72 100.48,573.99 101.13,573.27 101.79,572.58 102.46,571.91 103.14,571.27 103.83,570.64 104.53,570.03 105.24,569.45 105.96,568.88 106.68,568.32 107.42,567.79 108.17,567.27 108.92,566.77 109.69,566.28 110.46,565.8 111.25,565.35 112.04,564.9 112.84,564.47 113.66,564.05 114.48,563.64 115.31,563.24 116.15,562.85 117,562.48 117.86,562.11 118.73,561.76 119.61,561.41 120.5,561.08 121.4,560.75 122.31,560.43 123.23,560.13 124.15,559.82 125.09,559.53 126.03,559.25 126.99,558.97 127.96,558.7 128.93,558.43 129.91,558.17 130.91,557.92 131.91,557.68 132.92,557.44 133.94,557.21 134.98,556.98 136.02,556.76 137.07,556.54 138.13,556.33 139.2,556.12 140.28,555.92 141.36,555.73 142.46,555.53 143.57,555.35 144.69,555.16 145.81,554.98 146.95,554.81 148.1,554.64 149.25,554.47 150.42,554.31 151.59,554.15 152.77,553.99 153.97,553.84 155.17,553.69 156.38,553.54 157.6,553.4 158.83,553.26 160.07,553.12 161.32,552.99 162.58,552.85 163.85,552.72 165.13,552.6 166.42,552.47 167.72,552.35 169.03,552.23 170.34,552.12 171.67,552 173,551.89 174.35,551.78 175.7,551.67 177.07,551.57 178.44,551.47 179.83,551.36 181.22,551.26 182.62,551.17 184.03,551.07 185.45,550.98 186.88,550.88 188.32,550.79 189.77,550.7 191.23,550.62 192.7,550.53 194.18,550.45 195.67,550.36 197.17,550.28 198.67,550.2 200.19,550.13 201.71,550.05 203.25,549.97 204.8,549.9 206.35,549.83 207.91,549.75 209.49,549.68 211.07,549.61 212.66,549.55 214.26,549.48 215.88,549.41 217.5,549.35 219.13,549.29 220.77,549.22 222.42,549.16 224.08,549.1 225.74,549.04 227.42,548.98 229.11,548.92 230.81,548.87 232.51,548.81 234.23,548.76 235.95,548.7 237.69,548.65 239.43,548.6 241.19,548.55 242.95,548.49 244.72,548.44 246.51,548.4 248.3,548.35 250.1,548.3 251.91,548.25 253.73,548.21 255.56,548.16 257.4,548.11 259.25,548.07 261.11,548.03 262.98,547.98 264.86,547.94 266.74,547.9 268.64,547.86 270.55,547.82 272.46,547.78 274.39,547.74 276.32,547.7 278.26,547.66 280.22,547.62 282.18,547.59 284.15,547.55 286.14,547.51 288.13,547.48 290.13,547.44 292.14,547.41 294.16,547.37 296.19,547.34 298.23,547.31 300.28,547.27 302.34,547.24 304.4,547.21 306.48,547.18 308.57,547.15 310.66,547.11 312.77,547.08 314.89,547.05 317.01,547.02 319.14,547 321.29,546.97 323.44,546.94 325.6,546.91 327.78,546.88 329.96,546.85 332.15,546.83 334.35,546.8 336.56,546.77 338.78,546.75 341.01,546.72 343.25,546.7 345.5,546.67 347.76,546.65 350.02,546.62 352.3,546.6" fill="none" stroke-width="2.8" stroke-linejoin="round"/>
<polyline points="78.5,706.3 78.5,706.29 78.52,706.26 78.54,706.21 78.58,706.14 78.62,706.05 78.67,705.94 78.73,705.81 78.8,705.66 78.89,705.5 78.98,705.31 79.08,705.1 79.18,704.87 79.3,704.63 79.43,704.36 79.57,704.08 79.72,703.78 79.87,703.46 80.04,703.12 80.22,702.76 80.4,702.39 80.6,702 80.8,701.58 81.01,701.16 81.24,700.71 81.47,700.25 81.71,699.77 81.97,699.28 82.23,698.77 82.5,698.24 82.78,697.7 83.07,697.14 83.37,696.57 83.68,695.99 84,695.38 84.32,694.77 84.66,694.14 85.01,693.5 85.36,692.84 85.73,692.17 86.11,691.49 86.49,690.8 86.89,690.09 87.29,689.38 87.7,688.65 88.13,687.91 88.56,687.16 89,686.4 89.45,685.63 89.91,684.85 90.38,684.06 90.86,683.26 91.35,682.45 91.85,681.64 92.36,680.81 92.88,679.98 93.41,679.14 93.94,678.3 94.49,677.44 95.05,676.59 95.61,675.72 96.19,674.85 96.77,673.97 97.37,673.09 97.97,672.2 98.58,671.31 99.21,670.41 99.84,669.51 100.48,668.61 101.13,667.7 101.79,666.79 102.46,665.87 103.14,664.96 103.83,664.04 104.53,663.11 105.24,662.19 105.96,661.26 106.68,660.34 107.42,659.41 108.17,658.48 108.92,657.55 109.69,656.61 110.46,655.68 111.25,654.75 112.04,653.82 112.84,652.88 113.66,651.95 114.48,651.02 115.31,650.09 116.15,649.16 117,648.23 117.86,647.31 118.73,646.38 119.61,645.46 120.5,644.53 121.4,643.61 122.31,642.69 123.23,641.78 124.15,640.86 125.09,639.95 126.03,639.04 126.99,638.14 127.96,637.23 128.93,636.33 129.91,635.44 130.91,634.54 131.91,633.65 132.92,632.76 133.94,631.88 134.98,631 136.02,630.12 137.07,629.25 138.13,628.38 139.2,627.52 140.28,626.66 141.36,625.8 142.46,624.95 143.57,624.1 144.69,623.25 145.81,622.41 146.95,621.58 148.1,620.75 149.25,619.92 150.42,619.1 151.59,618.28 152.77,617.47 153.97,616.66 155.17,615.86 156.38,615.06 157.6,614.26 158.83,613.47 160.07,612.69 161.32,611.91 162.58,611.14 163.85,610.37 165.13,609.6 166.42,608.84 167.72,608.09 169.03,607.34 170.34,606.59 171.67,605.85 173,605.12 174.35,604.39 175.7,603.66 177.07,602.94 178.44,602.22 179.83,601.51 181.22,600.81 182.62,600.11 184.03,599.41 185.45,598.72 186.88,598.04 188.32,597.36 189.77,596.68 191.23,596.01 192.7,595.35 194.18,594.68 195.67,594.03 197.17,593.38 198.67,592.73 200.19,592.09 201.71,591.45 203.25,590.82 204.8,590.2 206.35,589.57 207.91,588.96 209.49,588.34 211.07,587.74 212.66,587.13 214.26,586.53 215.88,585.94 217.5,585.35 219.13,584.77 220.77,584.19 222.42,583.61 224.08,583.04 225.74,582.47 227.42,581.91 229.11,581.35 230.81,580.8 232.51,580.25 234.23,579.71 235.95,579.17 237.69,578.63 239.43,578.1 241.19,577.57 242.95,577.05 244.72,576.53 246.51,576.02 248.3,575.51 250.1,575 251.91,574.5 253.73,574 255.56,573.51 257.4,573.01 259.25,572.53 261.11,572.05 262.98,571.57 264.86,571.09 266.74,570.62 268.64,570.16 270.55,569.69 272.46,569.23 274.39,568.78 276.32,568.33 278.26,567.88 280.22,567.44 282.18,566.99 284.15,566.56 286.14,566.12 288.13,565.69 290.13,565.27 292.14,564.84 294.16,564.42 296.19,564.01 298.23,563.6 300.28,563.19 302.34,562.78 304.4,562.38 306.48,561.98 308.57,561.58 310.66,561.19 312.77,560.8 314.89,560.41 317.01,560.03 319.14,559.65 321.29,559.27 323.44,558.9 325.6,558.53 327.78,558.16 329.96,557.79 332.15,557.43 334.35,557.07 336.56,556.71 338.78,556.36 341.01,556.01 343.25,555.66 345.5,555.32 347.76,554.98 350.02,554.64 352.3,554.3" fill="none" stroke-width="2.8" stroke-linejoin="round"/>
<circle cx="80.5" cy="657.3" r="3.8" fill="#000" stroke="none"/>
<circle cx="79" cy="676.2" r="3.8" fill="#000" stroke="none"/>
<circle cx="78.6" cy="706.3" r="3.6" fill="#000" stroke="none"/>
<circle cx="373.5" cy="522.1" r="3.4" fill="#fff" stroke-width="1.8"/>
<text stroke="none" x="391.4" y="527.3" font-size="14.7" font-weight="normal" text-anchor="start" letter-spacing="0.4">PNG-VWF</text>
<rect x="370.4" y="562.8" width="6.6" height="6.6" fill="#000" stroke="none"/>
<text stroke="none" x="391.4" y="571.4" font-size="14.7" font-weight="normal" text-anchor="start" letter-spacing="0.6">pdVWF</text>
</svg>
</body></html>
